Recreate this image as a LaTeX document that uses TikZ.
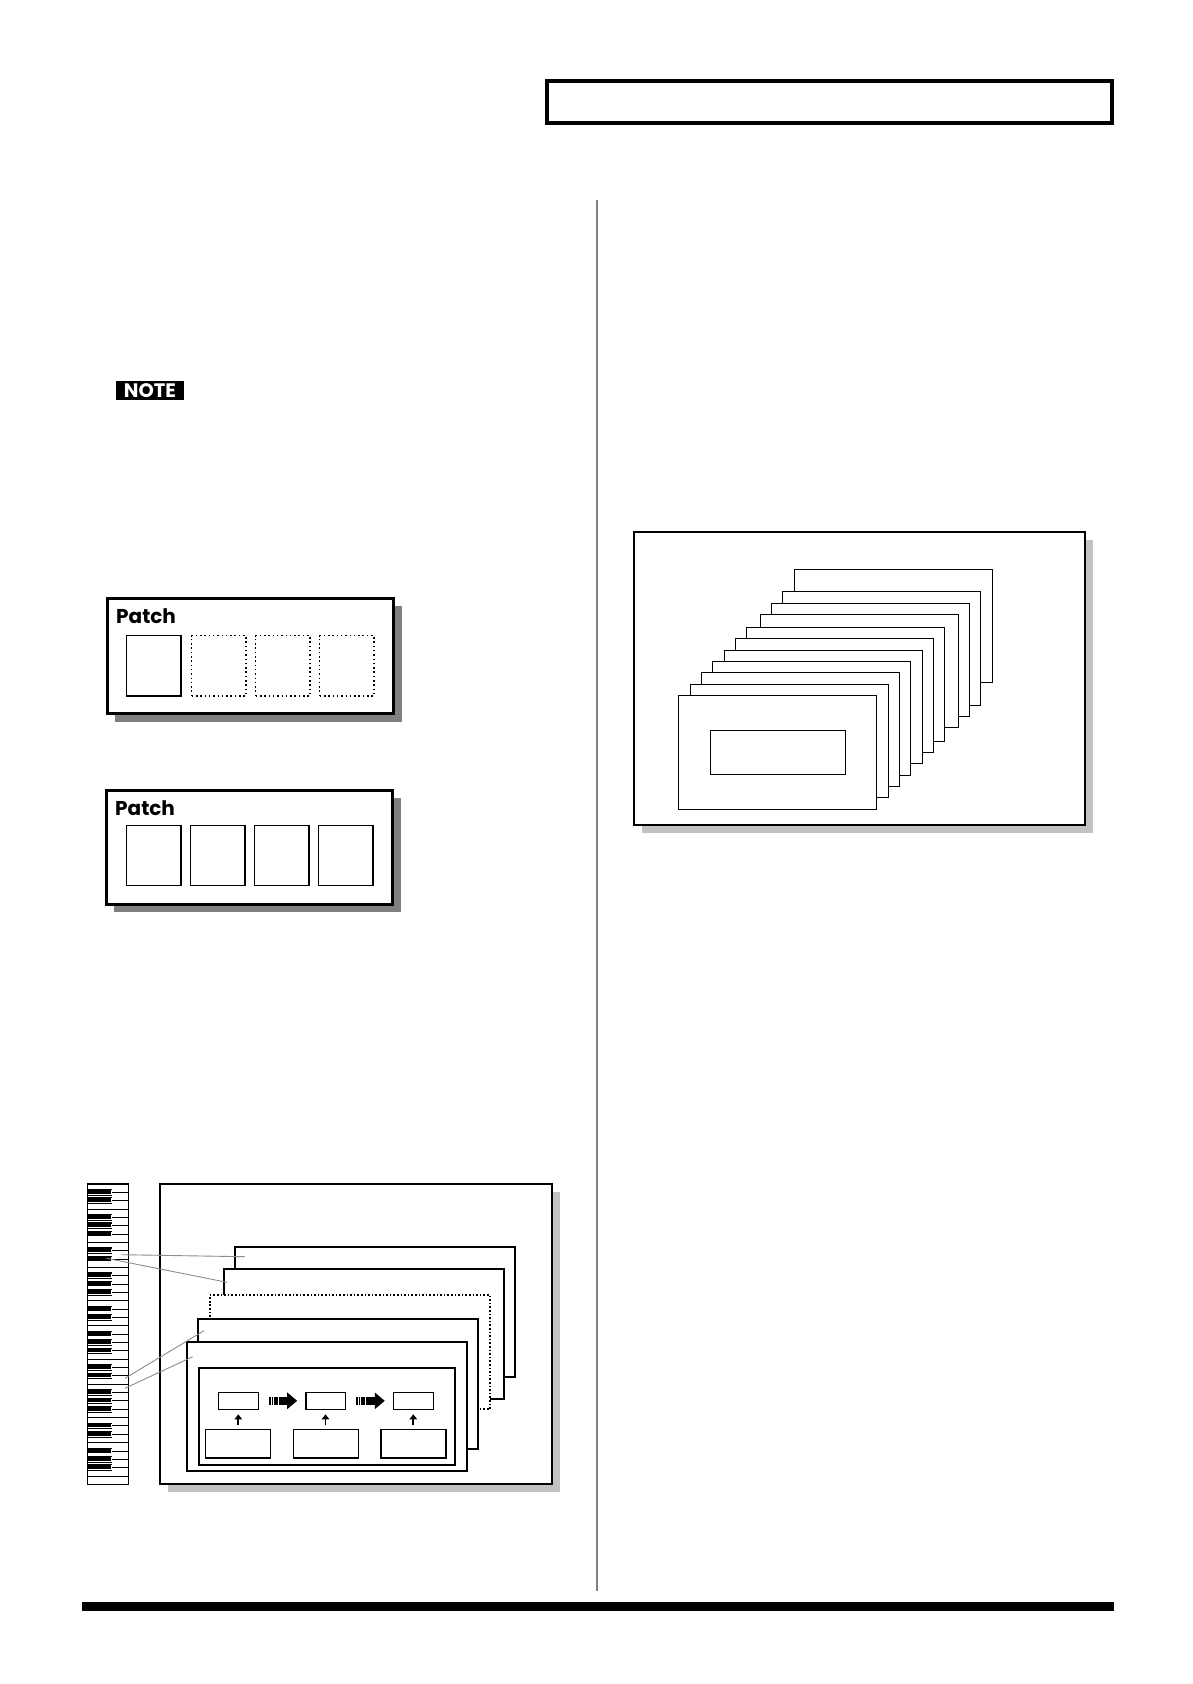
\documentclass[tikz,border=0pt]{standalone}
\usepackage{fontspec}
\newfontfamily\geofont{Poppins}
\usetikzlibrary{arrows.meta,shadows,calc}
\tikzset{
  rbox/.style={rectangle, inner sep=0pt, outer sep=0pt, anchor=north west, fill=white},
  frame/.style={rbox, draw, line width=2pt, drop shadow={shadow xshift=8pt, shadow yshift=-8pt, fill=black!24, opacity=1}},
  patchbox/.style={rbox, draw, line width=3pt, drop shadow={shadow xshift=8pt, shadow yshift=-8pt, fill=black!50, opacity=1}},
  layer/.style={rbox, draw, line width=1.7pt},
  dotlayer/.style={rbox, draw, line width=1.7pt, dash pattern=on 1.7pt off 1.9pt},
  card/.style={rbox, draw, line width=1.2pt},
  slot/.style={rbox, draw, line width=1.5pt, fill=none},
  dotslot/.style={rbox, draw, line width=1.5pt, fill=none, dash pattern=on 1.5pt off 2.8pt},
  pbox/.style={rbox, draw, line width=1.6pt},
  uparrow/.style={line width=1.9pt, -{Triangle[length=5pt,width=7.5pt]}, shorten <=4.3pt, shorten >=5pt},
  fatarrow/.style={line width=7.5pt, dash pattern=on 1.3pt off 1pt on 1.3pt off 1pt on 1.7pt off 0.7pt on 2pt off 0.4pt on 40pt,
     -{Triangle[length=10pt,width=16pt]}, shorten <=11pt, shorten >=8.5pt},
  link/.style={draw=black!45, line width=0.9pt},
  patchlabel/.style={anchor=base west, inner sep=0pt, font=\geofont\bfseries\fontsize{20}{22}\selectfont},
}
\begin{document}
\begin{tikzpicture}[x=1pt,y=-1pt]
\useasboundingbox (0,0) rectangle (1192,1684);
\fill[white] (0,0) rectangle (1192,1684);

% header box
\node[rbox, draw, line width=4.5pt, fill=none, minimum width=565pt, minimum height=42pt] (header) at (547,81) {};

% divider and bottom bar
\draw[black!50, line width=2pt] (597.3,200) -- (597.3,1591);
\fill[black] (82,1602) rectangle (1114,1611);

% NOTE badge
\node[rbox, fill=black, minimum width=68pt, minimum height=19pt, anchor=north west] (note) at (116,381) {};
\node[text=white, font=\geofont\bfseries\fontsize{19.5}{19.5}\selectfont, inner sep=0pt] (notetext) at ($(note.center)+(0,0.6)$) {NOTE};

% Patch box 1
\node[patchbox, minimum width=286.3pt, minimum height=115.3pt] (P1) at (107.2,598.2) {};
\node[patchlabel] (P1t) at (116,623.3) {Patch};
\node[slot, minimum width=54.3pt, minimum height=60.3pt] (s11) at (126.7,635.7) {};
\node[dotslot, minimum width=54.3pt, minimum height=60.3pt] (s12) at (191.7,635.7) {};
\node[dotslot, minimum width=54.3pt, minimum height=60.3pt] (s13) at (255.7,635.7) {};
\node[dotslot, minimum width=54.3pt, minimum height=60.3pt] (s14) at (319.7,635.7) {};

% Patch box 2
\node[patchbox, minimum width=286.3pt, minimum height=114pt] (P2) at (106.2,790.2) {};
\node[patchlabel] (P2t) at (115,815) {Patch};
\node[slot, minimum width=54.3pt, minimum height=60pt] (s21) at (126.7,825.7) {};
\node[slot, minimum width=54.3pt, minimum height=60pt] (s22) at (190.7,825.7) {};
\node[slot, minimum width=54.3pt, minimum height=60pt] (s23) at (254.7,825.7) {};
\node[slot, minimum width=54.3pt, minimum height=60pt] (s24) at (318.7,825.7) {};

% right diagram
\node[frame, minimum width=451.3pt, minimum height=293.3pt] (R) at (633.7,531.7) {};
\node[card, minimum width=198pt, minimum height=113pt] (C1) at (794.3,569.3) {};
\node[card, minimum width=198pt, minimum height=114pt] (C2) at (782.3,591.3) {};
\node[card, minimum width=198pt, minimum height=113pt] (C3) at (771.3,603.3) {};
\node[card, minimum width=198pt, minimum height=113pt] (C4) at (760.3,614.3) {};
\node[card, minimum width=198pt, minimum height=114pt] (C5) at (746.3,627.3) {};
\node[card, minimum width=198pt, minimum height=114pt] (C6) at (735.3,638.3) {};
\node[card, minimum width=198pt, minimum height=113pt] (C7) at (724.3,650.3) {};
\node[card, minimum width=198pt, minimum height=114pt] (C8) at (712.3,661.3) {};
\node[card, minimum width=198pt, minimum height=114pt] (C9) at (701.3,672.3) {};
\node[card, minimum width=198pt, minimum height=113pt] (C10) at (690.3,684.3) {};
\node[card, minimum width=198pt, minimum height=114pt] (C11) at (678.3,695.3) {};
\node[card, minimum width=135pt, minimum height=44pt] (CI) at (710.3,730.3) {};

% bottom-left diagram
\node[frame, minimum width=392.6pt, minimum height=300.3pt] (F) at (159.7,1183.7) {};
\node[layer, minimum width=280.6pt, minimum height=130.3pt] (L1) at (234.7,1246.7) {};
\node[layer, minimum width=280.6pt, minimum height=130pt] (L2) at (223.7,1269.3) {};
\node[dotlayer, minimum width=280.6pt, minimum height=113.7pt] (L3) at (209.7,1295.3) {};
\node[layer, minimum width=280.3pt, minimum height=130.3pt] (L4) at (197.7,1318.7) {};
\node[layer, minimum width=280.6pt, minimum height=129pt] (L5) at (186.7,1342) {};
\node[layer, minimum width=256.6pt, minimum height=97.3pt] (M) at (198.7,1367.7) {};

\node[pbox, minimum width=40pt, minimum height=17pt] (a1) at (218.3,1392.3) {};
\node[pbox, minimum width=39.6pt, minimum height=17pt] (a2) at (305.7,1392.3) {};
\node[pbox, minimum width=40pt, minimum height=17pt] (a3) at (393.3,1392.3) {};
\node[pbox, minimum width=65pt, minimum height=28.7pt] (b1) at (205.3,1429.3) {};
\node[pbox, minimum width=65pt, minimum height=28.7pt] (b2) at (293.3,1429.3) {};
\node[pbox, minimum width=65pt, minimum height=28.7pt] (b3) at (380.7,1429.3) {};

\draw[fatarrow] (a1.east) -- (a2.west);
\draw[fatarrow] (a2.east) -- (a3.west);
\draw[uparrow] (b1.north -| a1.center) -- (a1.south);
\draw[uparrow] (b2.north -| a2.center) -- (a2.south);
\draw[uparrow] (b3.north -| a3.center) -- (a3.south);

% keyboard
\def\kx{87.3}\def\kr{128.7}\def\kt{1184}\def\kh{8.342}\def\bk{112.3}
\node[rbox, draw, line width=1.2pt, minimum width=41.4pt, minimum height=300.3pt] (kbd) at (\kx,\kt) {};
\foreach \o in {0,...,4}{
  \foreach \k in {1,2,4,5,6}{
    \pgfmathsetmacro\yy{\kt+(7*\o+\k)*\kh}
    \fill[black] (\kx,\yy-3.3) rectangle (\bk,\yy+3.3);
    \draw[white, line width=0.7pt] (\kx+0.6,\yy+1.9) -- (\bk-1.3,\yy+1.9) -- (\bk-1.3,\yy-2.2);
    \draw[line width=0.9pt] (\bk,\yy) -- (\kr,\yy);
  }
  \foreach \k in {3,7}{
    \pgfmathsetmacro\yy{\kt+(7*\o+\k)*\kh}
    \draw[line width=0.9pt] (\kx,\yy) -- (\kr,\yy);
  }
}

% links from keyboard to layers
\coordinate (k1) at (121.7,1254.7);
\coordinate (k2) at (106.7,1258.3);
\coordinate (k3) at (125,1378.3);
\coordinate (k4) at (125,1388.3);
\coordinate (t1) at ($(L1.north west)+(10.3,10)$);
\coordinate (t2) at ($(L2.north west)+(3.3,13)$);
\coordinate (t3) at ($(L4.north west)+(6.3,12)$);
\coordinate (t4) at ($(L5.north west)+(6,14.7)$);
\draw[link] (k1) -- (t1);
\draw[link] (k2) -- (t2);
\draw[link] (k3) -- (t3);
\draw[link] (k4) -- (t4);
\end{tikzpicture}
\end{document}
